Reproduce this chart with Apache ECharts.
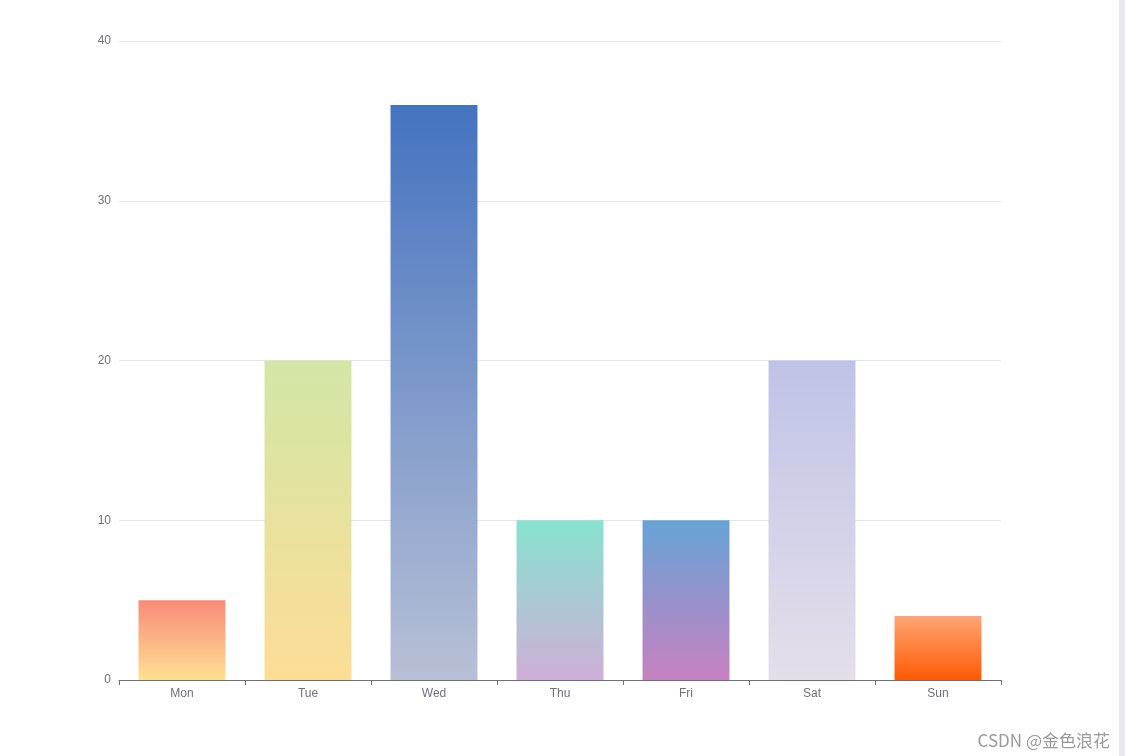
<!DOCTYPE html>
<html><head><meta charset="utf-8">
<script src="https://cdn.jsdelivr.net/npm/echarts@6/dist/echarts.min.js"></script>
<style>html,body{margin:0;padding:0;background:#fff}#c{width:1125px;height:756px}</style>
</head><body><div id="c"></div>
<script>
const categories = ['Mon','Tue','Wed','Thu','Fri','Sat','Sun'];
const values = [5, 20, 36, 10, 10, 20, 4];
const topColors = ['#f98a78','#d2e6a6','#4473c0','#87e3cf','#66a3d6','#bfc3e7','#ffa574'];
const bottomColors = ['#fee092','#fddd96','#b8c0d6','#ceaed8','#c781c0','#e5dfea','#ff5a04'];
const yTicks = [0, 10, 20, 30, 40];

const chart = echarts.init(document.getElementById('c'));
chart.setOption({
  animation: false,
  grid: {left: 119, right: 124, top: 41, bottom: 76},
  xAxis: {
    type: 'category', data: categories,
    axisLine: {show: true, lineStyle: {color: '#6e7079'}},
    axisTick: {show: true, alignWithLabel: false, length: 5, lineStyle: {color: '#6e7079'}},
    axisLabel: {color: '#6e7079', fontSize: 12, margin: 8}
  },
  yAxis: {
    type: 'value', min: yTicks[0], max: yTicks[yTicks.length-1], interval: 10,
    axisLabel: {color: '#6e7079', fontSize: 12, margin: 8},
    splitLine: {lineStyle: {color: '#e0e6f1'}}
  },
  series: [{
    type: 'bar', barWidth: '69%',
    data: values.map((v, i) => ({
      value: v,
      itemStyle: {
        color: new echarts.graphic.LinearGradient(0, 0, 0, 1, [
          {offset: 0, color: topColors[i]},
          {offset: 1, color: bottomColors[i]}
        ])
      }
    }))
  }],
  graphic: [
    {type: 'rect', right: 0, top: 0, shape: {width: 6, height: 756}, style: {fill: '#e8e8ef'}},
    {type: 'text', right: 15, bottom: 7, style: {text: 'CSDN @金色浪花', fill: '#9a9a9a', font: '17px "Noto Sans CJK SC", sans-serif'}}
  ]
});
</script></body></html>
